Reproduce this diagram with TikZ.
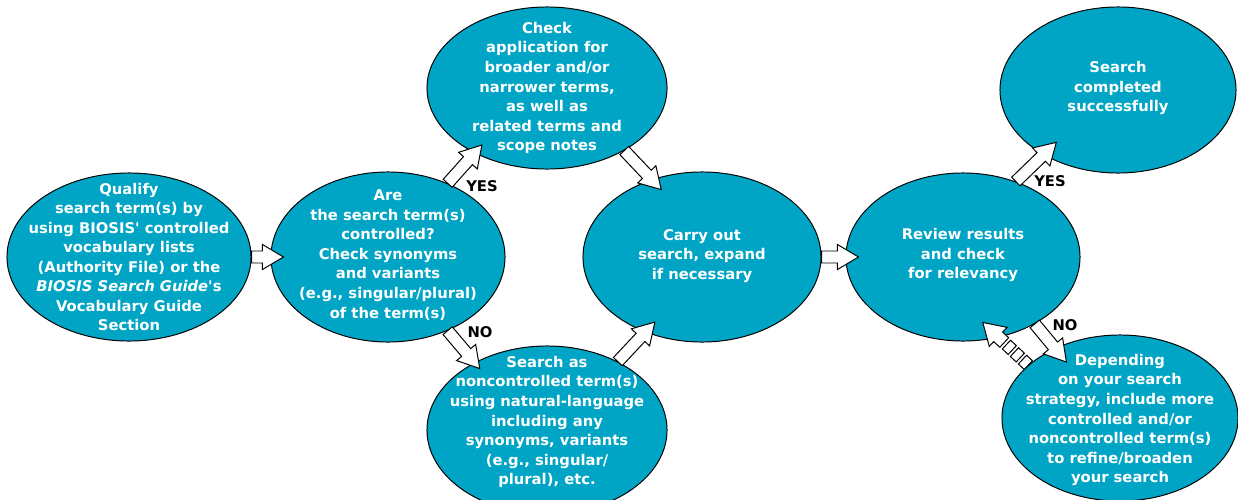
\documentclass[tikz,border=0pt]{standalone}
\usepackage{fontspec}
\setmainfont{DejaVu Sans}
\usetikzlibrary{shapes.geometric}

\definecolor{bubblefill}{RGB}{0,165,198}

% angle and length (px) between two border anchors
\newcommand{\arrowframe}[4]{%
  \pgfmathanglebetweenpoints{\pgfpointanchor{#1}{#2}}{\pgfpointanchor{#3}{#4}}%
  \let\arrang\pgfmathresult
  \pgfpointdiff{\pgfpointanchor{#1}{#2}}{\pgfpointanchor{#3}{#4}}%
  \pgfgetlastxy{\arrdx}{\arrdy}%
  \pgfmathsetmacro{\arrlen}{veclen(\arrdx,\arrdy)/0.7113}}

% block arrow: from node, anchor, to node, anchor, overshoot
\newcommand{\blockarrow}[5]{%
  \arrowframe{#1}{#2}{#3}{#4}%
  \pgfmathsetmacro{\arrtip}{\arrlen+#5}%
  \begin{scope}[shift={(#1.#2)}, rotate=\arrang]
    \draw[arrowbody] (0,6) -- ({\arrtip-21},6) -- ({\arrtip-21},12.5) -- (\arrtip,0)
      -- ({\arrtip-21},-12.5) -- ({\arrtip-21},-6) -- (0,-6) -- cycle;
  \end{scope}}

% block arrow with a broken (squared) tail
\newcommand{\stripedarrow}[5]{%
  \arrowframe{#1}{#2}{#3}{#4}%
  \pgfmathsetmacro{\arrtip}{\arrlen+#5}%
  \begin{scope}[shift={(#1.#2)}, rotate=\arrang]
    \draw[arrowbody] (33,6.5) -- ({\arrtip-21},6.5) -- ({\arrtip-21},13) -- (\arrtip,0)
      -- ({\arrtip-21},-13) -- ({\arrtip-21},-6.5) -- (33,-6.5) -- cycle;
    \foreach \s in {0,11,22}
      \draw[arrowbody] (\s,-6) rectangle ({\s+8},6);
  \end{scope}}

\begin{document}
\begin{tikzpicture}[x=0.025cm, y=-0.025cm,
    bubble/.style={ellipse, draw=black, line width=0.7pt, fill=bubblefill,
      minimum width=5.9cm, minimum height=4.2cm, inner sep=0pt},
    txt/.style={text=white, align=center, inner sep=0pt,
      font=\fontsize{10.5}{13.9}\selectfont\bfseries},
    answer/.style={text=black, inner sep=0pt,
      font=\fontsize{10.5}{12}\selectfont\bfseries},
    arrowbody/.style={draw=black, line width=0.7pt, fill=white, line join=miter}]

    \useasboundingbox (0,0) rectangle (1238,500);

    % Ellipses
    \node[bubble, minimum width=6.1cm] (e1) at (129,257) {};
    \node[bubble, minimum width=5.85cm, minimum height=4.25cm] (e2) at (388,257) {};
    \node[bubble, minimum width=6cm, minimum height=4.05cm] (e3) at (547,88) {};
    \node[bubble, minimum width=6cm] (e4) at (547,430) {};
    \node[bubble, minimum width=5.95cm, minimum height=4.25cm] (e5) at (702,257) {};
    \node[bubble, minimum width=5.85cm] (e6) at (963,257) {};
    \node[bubble, minimum height=4.15cm] (e7) at (1118,90) {};
    \node[bubble, minimum height=4.15cm] (e8) at (1120,418) {};

    % Texts
    \node[txt] (t1) at (129,257) {Qualify\\ search term(s) by\\ using BIOSIS\textquotesingle\ controlled\\
      vocabulary lists\\ (Authority File) or the\\ \textit{BIOSIS Search Guide}\textquotesingle s\\
      Vocabulary Guide\\ Section};
    \node[txt] (t2) at (388,255) {Are\\ the search term(s)\\ controlled?\\ Check synonyms\\
      and variants\\ (e.g., singular/plural)\\ of the term(s)};
    \node[txt] (t3) at (547,88) {Check\\ application for\\ broader and/or\\ narrower terms,\\
      as well as\\ related terms and\\ scope notes};
    \node[txt] (t4) at (547,422) {Search as\\ noncontrolled term(s)\\ using natural-language\\
      including any\\ synonyms, variants\\ (e.g., singular/\\ plural), etc.};
    \node[txt] (t5) at (702,256) {Carry out\\ search, expand\\ if necessary};
    \node[txt] (t6) at (963,255) {Review results\\ and check\\ for relevancy};
    \node[txt] (t7) at (1118,88) {Search\\ completed\\ successfully};
    \node[txt] (t8) at (1120,420) {Depending\\ on your search\\ strategy, include more\\
      controlled and/or\\ noncontrolled term(s)\\ to refine/broaden\\ your search};

    % Arrows
    \blockarrow{e1}{0}{e2}{180}{13}
    \blockarrow{e2}{51}{e3}{222}{11}
    \blockarrow{e2}{-51}{e4}{137}{8}
    \blockarrow{e3}{-39}{e5}{123}{14}
    \blockarrow{e4}{44}{e5}{-127}{14}
    \blockarrow{e5}{0}{e6}{180}{13}
    \blockarrow{e6}{55}{e7}{221}{18}
    \blockarrow{e6}{-43}{e8}{133}{18}
    \stripedarrow{e8}{150}{e6}{-66}{22}

    % Answers
    \node[answer] (yes1) at (482,186) {YES};
    \node[answer] (no1) at (480,332) {NO};
    \node[answer] (yes2) at (1050,181) {YES};
    \node[answer] (no2) at (1065,325) {NO};

\end{tikzpicture}
\end{document}
